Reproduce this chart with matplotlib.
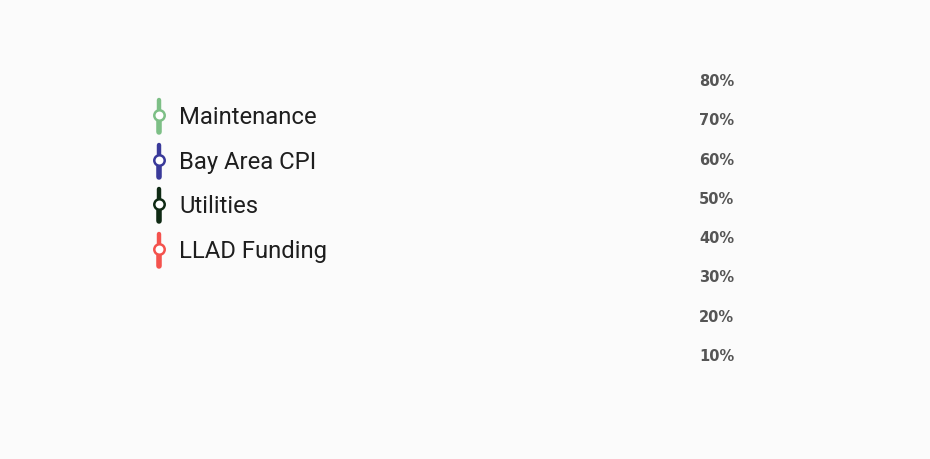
import matplotlib
matplotlib.use("Agg")
import matplotlib.pyplot as plt
from matplotlib.lines import Line2D
from matplotlib.ticker import FuncFormatter

# series shown in the legend (no points drawn yet in this frame)
series_names = ["Maintenance", "Bay Area CPI", "Utilities", "LLAD Funding"]
series_colors = ["#7dbf86", "#3a3a9a", "#0f2a14", "#f4524d"]
series_values = [[], [], [], []]
years = []

y_ticks = [0.1, 0.2, 0.3, 0.4, 0.5, 0.6, 0.7, 0.8]

bg = "#fbfbfb"
W, H = 930, 460

fig = plt.figure(figsize=(9.3, 4.6), dpi=100, facecolor=bg)
ax = fig.add_axes([160 / W, 1 - 394.3 / H, (693.5 - 160) / W, (394.3 - 40.7) / H])
ax.set_facecolor(bg)

for name, color, vals in zip(series_names, series_colors, series_values):
    ax.plot(years, vals, color=color, lw=2.5)

ax.set_ylim(0, 0.9)
ax.set_xlim(0, 1)
ax.set_yticks(y_ticks)
ax.yaxis.set_major_formatter(FuncFormatter(lambda v, p: f"{v * 100:.0f}%"))
ax.yaxis.tick_right()
ax.tick_params(axis="y", length=0, pad=4, labelsize=10.5, labelcolor="#555555")
for lab in ax.get_yticklabels():
    lab.set_fontweight("bold")
    lab.set_fontfamily("DejaVu Sans")
ax.set_xticks([])
for s in ax.spines.values():
    s.set_visible(False)

# legend drawn by hand, vertical marker style
x0 = 159
y0 = 116
dy = 44.5
for i, (name, color) in enumerate(zip(series_names, series_colors)):
    yc = y0 + i * dy
    fx = x0 / W
    fig.add_artist(Line2D([fx, fx], [1 - (yc - 15) / H, 1 - yc / H],
                          transform=fig.transFigure, color=color, lw=3.2,
                          solid_capstyle="round"))
    fig.add_artist(Line2D([fx, fx], [1 - yc / H, 1 - (yc + 17) / H],
                          transform=fig.transFigure, color=color, lw=4.0,
                          solid_capstyle="round"))
    fig.add_artist(Line2D([fx], [1 - yc / H], transform=fig.transFigure,
                          marker="o", markersize=7.5, markerfacecolor="white",
                          markeredgecolor=color, markeredgewidth=1.8, lw=0))
    fig.text(179 / W, 1 - (yc + 2) / H, name, fontsize=17.2, family="Roboto",
             color="#1e1e1e", va="center", ha="left")

fig.savefig("out.png", dpi=100, facecolor=bg)
